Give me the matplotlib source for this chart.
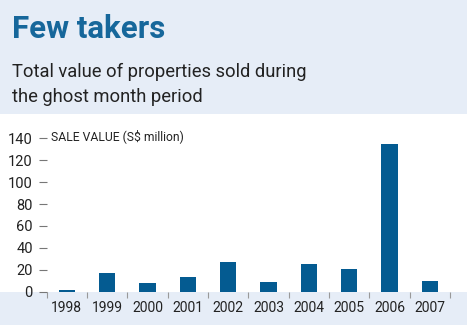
import matplotlib
matplotlib.use("Agg")
import matplotlib.pyplot as plt
from matplotlib.patches import Rectangle

years = ["1998", "1999", "2000", "2001", "2002", "2003", "2004", "2005", "2006", "2007"]
sale_value = [2, 17, 8, 13, 27, 9, 25, 21, 135, 10]
yticks = [0, 20, 40, 60, 80, 100, 120, 140]

W, H = 467, 325
band = "#e6edf7"
bar_blue = "#045b91"
title_blue = "#16679b"
font = ["Roboto", "DejaVu Sans"]

fig = plt.figure(figsize=(W / 100, H / 100), dpi=100, facecolor=band)

# white chart band
fig.patches.append(Rectangle((0, (H - 291.7) / H), 1, (291.7 - 114) / H,
                             transform=fig.transFigure, facecolor="white",
                             edgecolor="none", zorder=-5))

fig.text(12 / W, 1 - 29 / H, "Few takers", fontsize=22.5, fontweight="bold",
         color=title_blue, family=font, va="center", ha="left")
fig.text(12 / W, 1 - 77 / H, "Total value of properties sold during",
         fontsize=13.2, color="#222222", family=font, va="baseline")
fig.text(12 / W, 1 - 102 / H, "the ghost month period",
         fontsize=13.2, color="#222222", family=font, va="baseline")

top_px = 130
ymax = (291.7 - top_px) / 1.096
ax = fig.add_axes([46.7 / W, (H - 291.7) / H, (450 - 46.7) / W, (291.7 - top_px) / H])
ax.patch.set_visible(False)

x = range(len(years))
ax.bar(x, sale_value, width=0.4, color=bar_blue, zorder=3)

ax.set_xlim(-0.5, len(years) - 0.5)
ax.set_ylim(0, ymax)
for s in ax.spines.values():
    s.set_visible(False)

ax.set_yticks(yticks)
ax.set_yticklabels([str(v) for v in yticks], family=font, fontsize=10.5, color="#222222")
ax.tick_params(axis="y", length=6, width=0.8, color="#777777", pad=4)

# boundaries as major ticks, labels on minor ticks
ax.set_xticks([i - 0.5 for i in range(len(years) + 1)])
ax.set_xticklabels([])
ax.tick_params(axis="x", which="major", length=4, width=0.8, color="#999999")
ax.set_xticks(list(x), minor=True)
ax.set_xticklabels(years, minor=True, family=font, fontsize=10, color="#222222")
ax.tick_params(axis="x", which="minor", length=0, pad=7)

fig.text(51 / W, 1 - 136.5 / H, "SALE VALUE (S$ million)", fontsize=8.7,
         family=font, color="#222222", va="center", ha="left")

fig.savefig("out.png", dpi=100, facecolor=band)
